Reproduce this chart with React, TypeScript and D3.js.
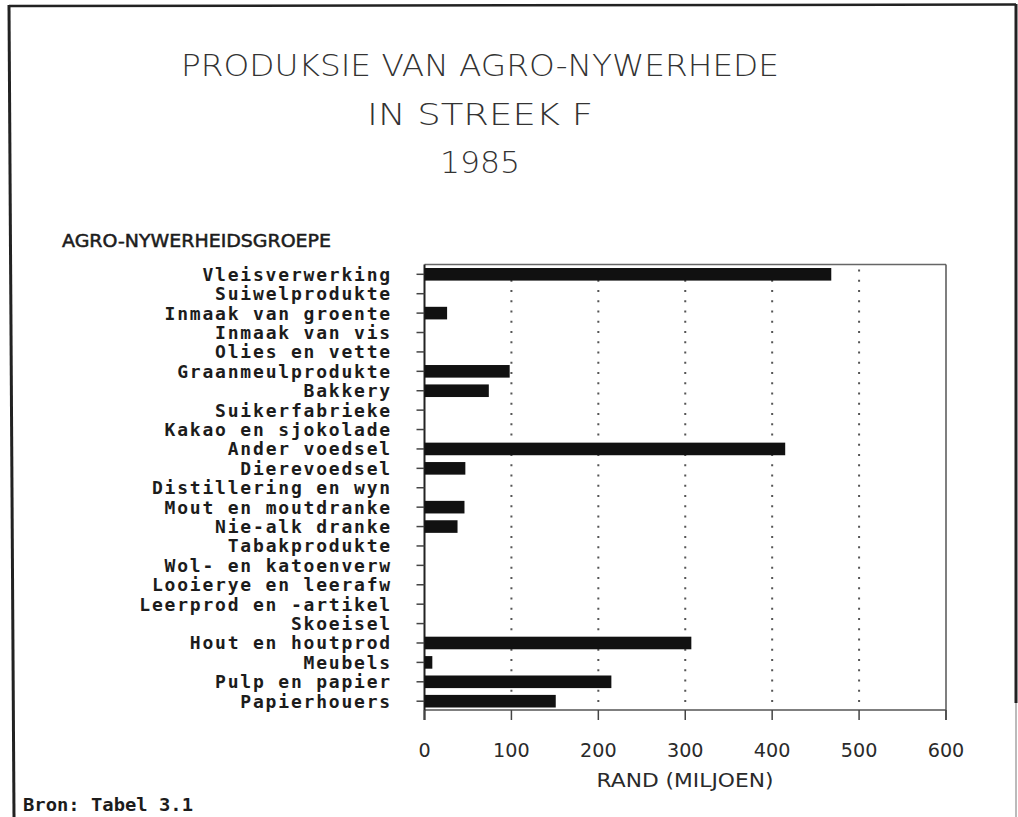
import React from "react";
import * as d3 from "d3";

const titleLines = ["PRODUKSIE VAN AGRO-NYWERHEDE", "IN STREEK F", "1985"];
const yAxisTitle = "AGRO-NYWERHEIDSGROEPE";
const xAxisTitle = "RAND (MILJOEN)";
const sourceNote = "Bron: Tabel 3.1";

const categories = [
  "Vleisverwerking",
  "Suiwelprodukte",
  "Inmaak van groente",
  "Inmaak van vis",
  "Olies en vette",
  "Graanmeulprodukte",
  "Bakkery",
  "Suikerfabrieke",
  "Kakao en sjokolade",
  "Ander voedsel",
  "Dierevoedsel",
  "Distillering en wyn",
  "Mout en moutdranke",
  "Nie-alk dranke",
  "Tabakprodukte",
  "Wol- en katoenverw",
  "Looierye en leerafw",
  "Leerprod en -artikel",
  "Skoeisel",
  "Hout en houtprod",
  "Meubels",
  "Pulp en papier",
  "Papierhouers",
];

const values = [468, 0, 26, 0, 0, 98, 74, 0, 0, 415, 47, 0, 46, 38, 0, 0, 0, 0, 0, 307, 9, 215, 151];

const xTicks = [0, 100, 200, 300, 400, 500, 600];
const gridTicks = [100, 200, 300, 400, 500];

export default function App() {
  const W = 1018;
  const H = 817;
  const left = 424.5;
  const right = 946;
  const top = 264.5;
  const bottom = 710;

  const x = d3.scaleLinear().domain([0, 600]).range([left, right]);
  const y = d3.scalePoint<string>().domain(categories).range([274.3, 701.2]);
  const barH = 12.6;
  const ink = "#1c1c1c";

  const labelFont = "'DejaVu Sans Mono', monospace";
  const sansFont = "'DejaVu Sans', sans-serif";

  return (
    <svg
      width={W}
      height={H}
      viewBox={`0 0 ${W} ${H}`}
      style={{ position: "absolute", left: 0, top: 0, background: "#fff" }}
    >
      <rect x={0} y={0} width={W} height={H} fill="#fff" />
      {/* outer frame */}
      <line x1={9} y1={6} x2={1016} y2={4.5} stroke="#222" strokeWidth={2.5} />
      <line x1={9} y1={5} x2={14} y2={817} stroke="#222" strokeWidth={3} />
      <line x1={1016} y1={4} x2={1016} y2={703} stroke="#222" strokeWidth={3} />
      <line x1={1016} y1={703} x2={1016} y2={817} stroke="#bbb" strokeWidth={2} />

      {/* title */}
      {titleLines.map((t, i) => (
        <text
          key={t}
          x={480}
          y={76 + i * 48.5}
          textAnchor="middle"
          fontFamily={sansFont}
          fontWeight={300}
          fontSize={30}
          fill="#333"
          textLength={i === 0 ? 598 : i === 1 ? 226 : 80}
          lengthAdjust="spacingAndGlyphs"
        >
          {t}
        </text>
      ))}

      {/* y axis title */}
      <text
        x={62}
        y={247}
        fontFamily={sansFont}
        fontSize={17}
        fill={ink}
        stroke={ink}
        strokeWidth={0.5}
        textLength={269}
        lengthAdjust="spacingAndGlyphs"
      >
        {yAxisTitle}
      </text>

      {/* grid lines */}
      {gridTicks.map((t) => (
        <line
          key={"g" + t}
          x1={x(t)}
          x2={x(t)}
          y1={top + 5}
          y2={bottom}
          stroke="#555"
          strokeWidth={2}
          strokeDasharray="2 8.25"
        />
      ))}

      {/* plot frame */}
      <line x1={left} x2={right} y1={top} y2={top} stroke="#666" strokeWidth={1.5} />
      <line x1={right} x2={right} y1={top} y2={bottom + 10} stroke="#555" strokeWidth={1.5} />
      <line x1={left} x2={right} y1={bottom} y2={bottom} stroke="#555" strokeWidth={1.6} />
      <line x1={left} x2={left} y1={top} y2={bottom + 10} stroke="#222" strokeWidth={2} />

      {/* x ticks */}
      {xTicks.map((t) => (
        <g key={"xt" + t}>
          <line x1={x(t)} x2={x(t)} y1={bottom} y2={bottom + 10} stroke="#444" strokeWidth={1.5} />
          <text
            x={x(t)}
            y={756.5}
            textAnchor="middle"
            fontFamily={sansFont}
            fontSize={20}
            fill="#2a2a2a"
            textLength={String(t).length * 12.2}
            lengthAdjust="spacingAndGlyphs"
          >
            {t}
          </text>
        </g>
      ))}

      {/* x axis title */}
      <text
        x={685}
        y={787}
        textAnchor="middle"
        fontFamily={sansFont}
        fontSize={19}
        fill="#2a2a2a"
        textLength={177}
        lengthAdjust="spacingAndGlyphs"
      >
        {xAxisTitle}
      </text>

      {/* y ticks and labels */}
      {categories.map((c) => (
        <g key={"yc" + c}>
          <line x1={left - 8} x2={left} y1={y(c)!} y2={y(c)!} stroke="#444" strokeWidth={1.5} />
          <text
            x={392}
            y={(y(c) as number) + 6.5}
            textAnchor="end"
            fontFamily={labelFont}
            fontWeight="bold"
            fontSize={18}
            letterSpacing={1.8}
            fill={ink}
          >
            {c}
          </text>
        </g>
      ))}

      {/* bars */}
      {categories.map((c, i) =>
        values[i] > 0 ? (
          <rect
            key={"b" + c}
            x={x(0)}
            y={(y(c) as number) - barH / 2}
            width={x(values[i]) - x(0)}
            height={barH}
            fill="#111"
          />
        ) : null
      )}

      {/* source */}
      <text
        x={23}
        y={811}
        fontFamily={labelFont}
        fontWeight="bold"
        fontSize={17}
        fill={ink}
        textLength={170}
        lengthAdjust="spacingAndGlyphs"
      >
        {sourceNote}
      </text>
    </svg>
  );
}
